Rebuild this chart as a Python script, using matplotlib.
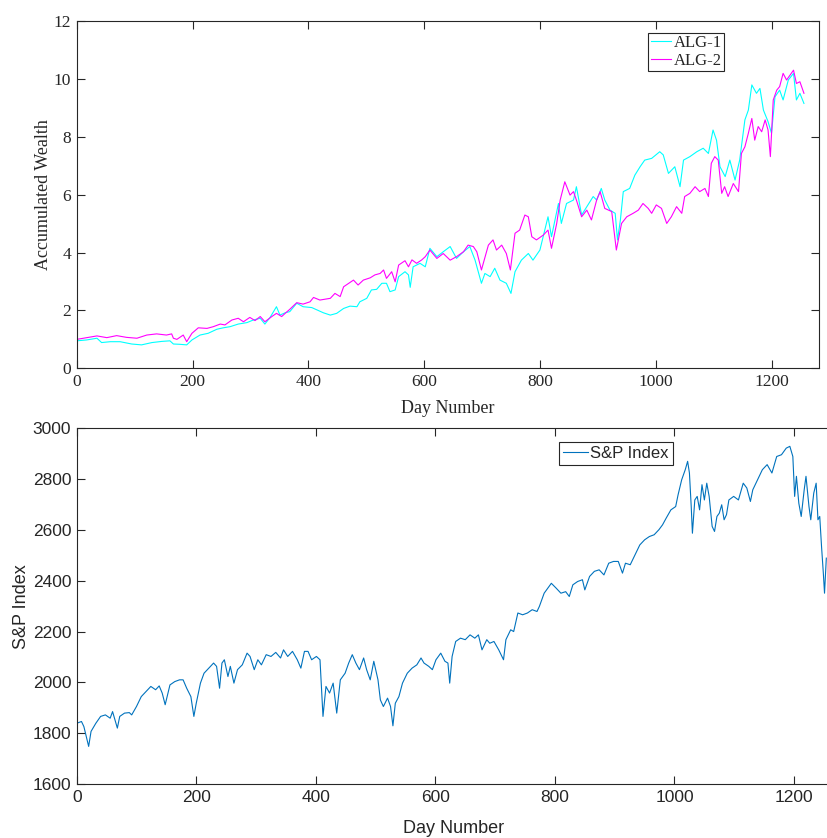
import matplotlib
matplotlib.use("Agg")
import matplotlib.pyplot as plt
import numpy as np

# ---------------- data ----------------
alg1_days = [0,17,35,43,58,75,95,112,130,147,161,167,178,190,199,213,227,242,253,265,279,294,305,317,325,334,345,351,360,368,380,391,406,415,426,438,449,461,472,484,489,501,509,518,527,535,541,550,556,567,573,576,581,593,602,
             610,622,633,645,656,668,679,688,699,705,714,722,731,742,750,757,768,780,788,800,814,820,832,837,846,858,863,872,881,892,898,906,912,921,930,934,939,944,955,964,973,981,993,1007,1013,1022,1033,1042,1048,1059,1071,1082,1091,1099,1105,1111,1120,1128,1137,1145,1154,1160,1166,1174,1180,1186,1194,1200,1206,1214,1220,1229,1238,1243,1249,1256]
alg1_vals = [0.95,0.98,1.04,0.89,0.92,0.92,0.84,0.81,0.89,0.93,0.95,0.84,0.83,0.81,0.98,1.15,1.21,1.35,1.40,1.44,1.53,1.58,1.67,1.73,1.53,1.76,2.13,1.84,1.92,1.96,2.25,2.13,2.10,2.02,1.92,1.84,1.90,2.07,2.15,2.13,2.30,2.42,2.71,2.73,2.94,2.94,2.65,2.71,3.17,3.34,3.23,2.80,3.51,3.63,3.51,
             4.15,3.86,4.03,4.21,3.80,4.03,4.21,3.74,2.94,3.28,3.17,3.46,3.05,2.94,2.59,3.34,3.74,3.97,3.74,4.09,5.24,4.55,5.70,5.01,5.70,5.82,6.28,5.30,5.59,5.94,5.82,6.22,5.82,5.47,5.36,4.44,5.13,6.11,6.22,6.68,6.97,7.20,7.26,7.49,7.38,6.74,6.97,6.28,7.20,7.32,7.49,7.61,7.43,8.24,7.89,6.97,6.63,7.20,6.51,7.20,8.59,8.93,9.80,9.51,9.68,8.93,8.53,8.13,9.39,9.62,9.28,9.97,10.20,9.28,9.51,9.16]

alg2_days = [0,17,35,52,69,86,104,121,138,155,164,167,173,184,190,199,210,225,236,248,256,268,279,288,299,308,317,325,337,345,354,360,368,380,391,403,409,420,438,446,455,461,478,486,495,507,515,524,530,535,544,550,556,567,573,579,587,596,602,
             610,622,633,645,656,668,676,685,691,699,711,719,725,734,742,749,757,765,774,780,786,794,806,814,820,829,835,843,852,858,863,872,881,889,898,904,912,924,932,941,950,961,970,978,987,993,1001,1010,1019,1027,1036,1045,1050,1059,1068,1076,1085,1091,1096,1102,1108,1114,1119,1125,1134,1143,1148,1154,1160,1166,1171,1177,1183,1189,1194,1198,1203,1209,1214,1220,1226,1232,1238,1243,1249,1256]
alg2_vals = [1.00,1.06,1.12,1.06,1.13,1.07,1.04,1.15,1.19,1.15,1.19,1.04,1.00,1.15,0.92,1.21,1.40,1.38,1.44,1.53,1.50,1.67,1.73,1.61,1.76,1.65,1.79,1.61,1.79,1.90,1.79,1.90,2.04,2.27,2.22,2.30,2.45,2.36,2.42,2.59,2.48,2.82,3.05,2.88,3.05,3.13,3.23,3.28,3.40,3.11,3.34,2.99,3.57,3.72,3.51,3.75,3.63,3.75,3.86,
             4.09,3.80,3.97,3.74,3.86,4.03,4.26,4.21,4.03,3.40,4.26,4.44,4.09,4.26,3.97,3.40,4.67,4.78,5.30,5.24,4.55,4.44,4.61,4.78,4.15,5.01,5.82,6.45,5.99,6.11,5.82,5.24,5.47,5.13,5.82,6.11,5.53,5.42,4.09,5.01,5.24,5.36,5.47,5.70,5.53,5.36,5.65,5.53,5.01,5.24,5.59,5.36,5.94,6.05,6.28,6.11,6.22,5.94,7.09,7.32,7.20,6.05,6.28,5.94,6.39,6.11,7.43,7.66,8.13,8.64,7.89,8.36,8.18,8.59,8.24,7.32,9.28,9.62,9.74,10.20,9.97,10.14,10.31,9.85,9.91,9.51]

sp_days = [0,8,12,16,20,24,32,40,48,56,60,68,72,80,88,92,100,108,116,124,132,138,143,148,156,164,172,178,184,191,196,200,207,213,221,229,234,239,243,247,253,257,263,269,277,285,290,297,303,309,317,325,333,341,346,353,361,369,375,381,387,393,401,407,409,412,417,423,429,435,441,449,455,461,467,473,480,485,491,497,504,508,513,520,525,529,533,539,545,553,561,569,576,581,589,595,601,609,616,621,624,628,634,642,650,658,666,672,678,686,691,698,706,714,718,726,731,738,746,754,762,770,774,782,790,794,802,810,818,824,830,838,846,850,858,866,874,882,890,898,906,913,918,926,934,942,950,958,966,974,980,986,994,1002,1006,1012,1018,1022,1025,1028,1030,1034,1038,1042,1046,1050,1054,1058,1063,1067,1071,1075,1079,1083,1087,1091,1099,1107,1115,1121,1127,1131,1139,1147,1155,1163,1171,1179,1187,1193,1198,1201,1204,1208,1212,1217,1220,1225,1228,1233,1237,1240,1243,1246,1249,1251,1254]
sp_vals = [1839,1846,1826,1787,1748,1807,1839,1866,1872,1859,1885,1820,1866,1879,1881,1872,1905,1944,1964,1984,1971,1986,1958,1912,1990,2003,2010,2010,1977,1944,1866,1918,1997,2036,2056,2076,2063,1977,2076,2089,2023,2063,1997,2050,2069,2115,2102,2050,2089,2069,2109,2102,2118,2096,2128,2102,2122,2089,2056,2122,2122,2089,2102,2089,1997,1866,1984,1958,1997,1879,2010,2036,2076,2109,2076,2050,2096,2050,2010,2083,2010,1931,1905,1938,1905,1829,1918,1944,1997,2036,2056,2069,2096,2076,2063,2050,2089,2115,2083,2076,1997,2102,2161,2174,2168,2187,2174,2187,2128,2168,2154,2161,2128,2089,2168,2207,2200,2273,2266,2273,2286,2279,2299,2351,2377,2390,2371,2351,2357,2338,2384,2397,2404,2364,2417,2437,2443,2423,2469,2476,2476,2430,2469,2463,2502,2541,2561,2574,2581,2601,2620,2646,2679,2692,2738,2797,2837,2870,2824,2692,2587,2718,2732,2679,2778,2718,2784,2732,2614,2594,2653,2666,2699,2640,2660,2718,2732,2718,2784,2765,2712,2758,2797,2837,2857,2824,2889,2896,2922,2929,2889,2732,2811,2705,2653,2758,2811,2692,2640,2745,2784,2640,2653,2535,2430,2351,2489]

x_ticks = [0, 200, 400, 600, 800, 1000, 1200]
top_yticks = [0, 2, 4, 6, 8, 10, 12]
bot_yticks = [1600, 1800, 2000, 2200, 2400, 2600, 2800, 3000]

# ---------------- figure ----------------
W, H = 828, 838
fig = plt.figure(figsize=(W / 100, H / 100), dpi=100)
fig.patch.set_facecolor("white")
dark = "#262626"

def style(ax, family, size, right=True):
    ax.tick_params(direction="in", length=5.5, width=0.8, colors=dark,
                   top=True, right=right, labelsize=size, pad=4)
    for lbl in ax.get_xticklabels() + ax.get_yticklabels():
        lbl.set_fontfamily(family)
    for s in ax.spines.values():
        s.set_color(dark)
        s.set_linewidth(0.8)

# top axes
ax1 = fig.add_axes([76.7 / W, (H - 368.3) / H, (819 - 76.7) / W, 347 / H])
ax1.plot(alg1_days, alg1_vals, color="#00FFFF", lw=0.8, label="ALG-1")
ax1.plot(alg2_days, alg2_vals, color="#FF00FF", lw=0.8, label="ALG-2")
ax1.set_xlim(0, 1282)
ax1.set_ylim(0, 12)
ax1.set_xticks(x_ticks)
ax1.set_yticks(top_yticks)
style(ax1, "Liberation Serif", 12.5)
ax1.set_xlabel("Day Number", fontfamily="Liberation Serif", fontsize=13, color=dark, labelpad=7)
ax1.set_ylabel("Accumulated Wealth", fontfamily="Liberation Serif", fontsize=13, color=dark, labelpad=1)
leg1 = ax1.legend(loc="upper right", bbox_to_anchor=(0.872, 0.967), prop={"family": "Liberation Serif", "size": 12},
                  fancybox=False, edgecolor=dark, framealpha=1, borderaxespad=0, borderpad=0.15,
                  handlelength=1.2, handletextpad=0.15, labelspacing=0.1)
leg1.get_frame().set_linewidth(0.8)
for t in leg1.get_texts():
    t.set_color(dark)

# bottom axes
ax2 = fig.add_axes([76.7 / W, (H - 784) / H, (830.5 - 76.7) / W, 355.7 / H])
ax2.plot(sp_days, sp_vals, color="#0072BD", lw=0.8, label="S&P Index")
ax2.set_xlim(0, 1261)
ax2.set_ylim(1600, 3000)
ax2.set_xticks(x_ticks)
ax2.set_yticks(bot_yticks)
style(ax2, "Liberation Sans", 12.5, right=False)
ax2.set_xlabel("Day Number", fontfamily="Liberation Sans", fontsize=13, color=dark, labelpad=11)
ax2.set_ylabel("S&P Index", fontfamily="Liberation Sans", fontsize=13, color=dark, labelpad=2)
leg2 = ax2.legend(loc="upper right", bbox_to_anchor=(0.791, 0.962), prop={"family": "Liberation Sans", "size": 12},
                  fancybox=False, edgecolor=dark, framealpha=1, borderaxespad=0, borderpad=0.25,
                  handlelength=1.5, handletextpad=0.15)
leg2.get_frame().set_linewidth(0.8)
for t in leg2.get_texts():
    t.set_color(dark)

fig.savefig("out.png", dpi=100, facecolor="white")
